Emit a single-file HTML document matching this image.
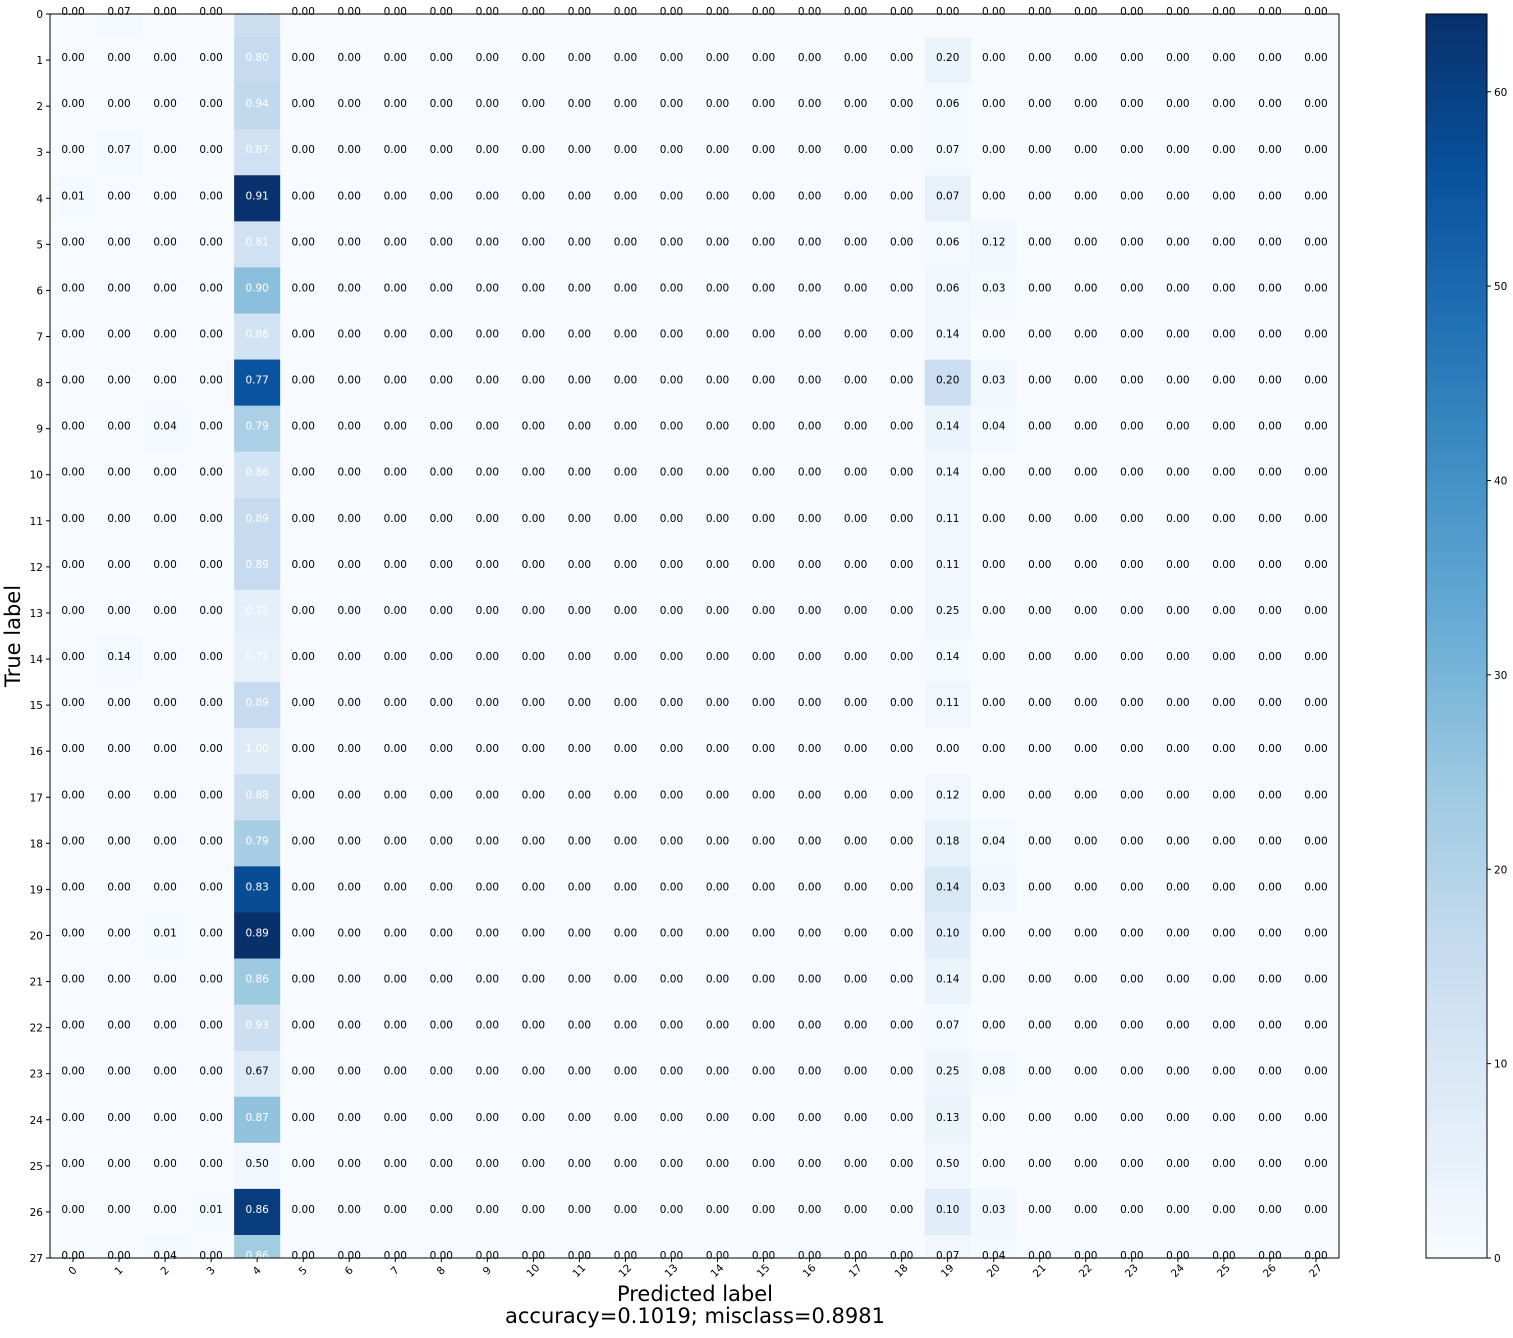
<!DOCTYPE html>
<html><head><meta charset="utf-8"><style>
body{margin:0;background:#fff}
svg text{font-family:"DejaVu Sans","Liberation Sans",sans-serif}
</style></head><body>
<svg id="chart" width="1513" height="1333" xmlns="http://www.w3.org/2000/svg">
<defs>
<clipPath id="plotclip"><rect x="50" y="14" width="1289" height="1244"/></clipPath>
<linearGradient id="cbgrad" x1="0" y1="1" x2="0" y2="0">
<stop offset="0" stop-color="#f7fbff"/><stop offset="0.125" stop-color="#deebf7"/><stop offset="0.25" stop-color="#c6dbef"/><stop offset="0.375" stop-color="#9ecae1"/><stop offset="0.5" stop-color="#6baed6"/><stop offset="0.625" stop-color="#4292c6"/><stop offset="0.75" stop-color="#2171b5"/><stop offset="0.875" stop-color="#08519c"/><stop offset="1" stop-color="#08306b"/>
</linearGradient>
</defs>
<g id="cells" clip-path="url(#plotclip)"></g>
<g id="labels"></g>
<rect x="50" y="14" width="1289" height="1244" fill="none" stroke="#000" stroke-width="1"/>
<g id="xticks"></g>
<g id="yticks"></g>
<text x="20" y="636" font-size="21" text-anchor="middle" transform="rotate(-90 20 636)">True label</text>
<text x="695" y="1301" font-size="21" text-anchor="middle">Predicted label</text>
<text x="695" y="1323" font-size="21" text-anchor="middle">accuracy=0.1019; misclass=0.8981</text>
<rect x="1426" y="14" width="61" height="1244" fill="url(#cbgrad)" stroke="#000" stroke-width="1"/>
<g id="cbticks"></g>
</svg>
<script>
const classes = [0,1,2,3,4,5,6,7,8,9,10,11,12,13,14,15,16,17,18,19,20,21,22,23,24,25,26,27];
const rowTotals = [15,20,18,15,70,16,30,14,72,27,14,18,18,8,7,18,8,16,28,69,72,28,15,12,30,4,71,27];
// nonzero normalized entries: [row, col, value]
const nonzero = [
[0,1,0.07],[0,4,0.93],
[1,4,0.80],[1,19,0.20],
[2,4,0.94],[2,19,0.06],
[3,1,0.07],[3,4,0.87],[3,19,0.07],
[4,0,0.01],[4,4,0.91],[4,19,0.07],
[5,4,0.81],[5,19,0.06],[5,20,0.12],
[6,4,0.90],[6,19,0.06],[6,20,0.03],
[7,4,0.86],[7,19,0.14],
[8,4,0.77],[8,19,0.20],[8,20,0.03],
[9,2,0.04],[9,4,0.79],[9,19,0.14],[9,20,0.04],
[10,4,0.86],[10,19,0.14],
[11,4,0.89],[11,19,0.11],
[12,4,0.89],[12,19,0.11],
[13,4,0.75],[13,19,0.25],
[14,1,0.14],[14,4,0.71],[14,19,0.14],
[15,4,0.89],[15,19,0.11],
[16,4,1.00],
[17,4,0.88],[17,19,0.12],
[18,4,0.79],[18,19,0.18],[18,20,0.04],
[19,4,0.83],[19,19,0.14],[19,20,0.03],
[20,2,0.01],[20,4,0.89],[20,19,0.10],
[21,4,0.86],[21,19,0.14],
[22,4,0.93],[22,19,0.07],
[23,4,0.67],[23,19,0.25],[23,20,0.08],
[24,4,0.87],[24,19,0.13],
[25,4,0.50],[25,19,0.50],
[26,3,0.01],[26,4,0.86],[26,19,0.10],[26,20,0.03],
[27,2,0.04],[27,4,0.86],[27,19,0.07],[27,20,0.04]
];
const cbTicks = [0,10,20,30,40,50,60];
const vmax = 64;

const NS = "http://www.w3.org/2000/svg";
const X0 = 50, X1 = 1339, Y0 = 14, Y1 = 1258;
const n = classes.length;
const cw = (X1 - X0) / n;
const ch = (Y1 - Y0) / (n - 1);
const xc = i => X0 + cw * (i + 0.5);
const yc = i => Y0 + ch * i;
const cbY = v => Y1 - (Y1 - Y0) * v / vmax;
const stops = ["#f7fbff","#deebf7","#c6dbef","#9ecae1","#6baed6","#4292c6","#2171b5","#08519c","#08306b"];
function hex(h){return [1,3,5].map(k=>parseInt(h.substr(k,2),16));}
function blues(t){
  t = Math.max(0, Math.min(1, t));
  const p = t * 8, i = Math.min(7, Math.floor(p)), f = p - i;
  const a = hex(stops[i]), b = hex(stops[i+1]);
  return "rgb(" + a.map((v,k)=>Math.round(v+(b[k]-v)*f)).join(",") + ")";
}
function mk(tag, attrs, parent){
  const e = document.createElementNS(NS, tag);
  for (const k in attrs) e.setAttribute(k, attrs[k]);
  parent.appendChild(e); return e;
}
const M = classes.map(() => classes.map(() => 0));
nonzero.forEach(([r,c,v]) => { M[r][c] = v; });

const gc = document.getElementById("cells"), gl = document.getElementById("labels");
for (let r = 0; r < n; r++) {
  for (let c = 0; c < n; c++) {
    const v = M[r][c];
    const count = v * rowTotals[r];
    const rect = mk("rect", {x: X0 + cw*c, y: yc(r) - ch/2, width: cw + 0.5, height: ch + 0.5, fill: blues(count / vmax)}, gc);
    
    
    const t = mk("text", {x: xc(c), y: yc(r) + 1, "font-size": 10.5, "text-anchor": "middle", fill: v > 0.67 ? "#fff" : "#000"}, gl);
    
    
    t.textContent = v.toFixed(2);
  }
}
const gx = document.getElementById("xticks"), gy = document.getElementById("yticks");
classes.forEach((lab, i) => {
  mk("line", {x1: xc(i), x2: xc(i), y1: Y1, y2: Y1 + 4, stroke: "#000"}, gx);
  const tx = mk("text", {x: xc(i), y: Y1 + 16, "font-size": 10.5, "text-anchor": "middle", transform: `rotate(-45 ${xc(i)} ${Y1 + 13})`}, gx);
  
  
  tx.textContent = lab;
  mk("line", {x1: X0 - 4, x2: X0, y1: yc(i), y2: yc(i), stroke: "#000"}, gy);
  const ty = mk("text", {x: X0 - 7, y: yc(i) + 4, "font-size": 10.5, "text-anchor": "end"}, gy);
  
  
  ty.textContent = lab;
});
const gcb = document.getElementById("cbticks");
cbTicks.forEach(v => {
  mk("line", {x1: 1487, x2: 1491, y1: cbY(v), y2: cbY(v), stroke: "#000"}, gcb);
  const t = mk("text", {x: 1494, y: cbY(v) + 4, "font-size": 10.5}, gcb);
  
  
  t.textContent = v;
});
</script>
</body></html>
